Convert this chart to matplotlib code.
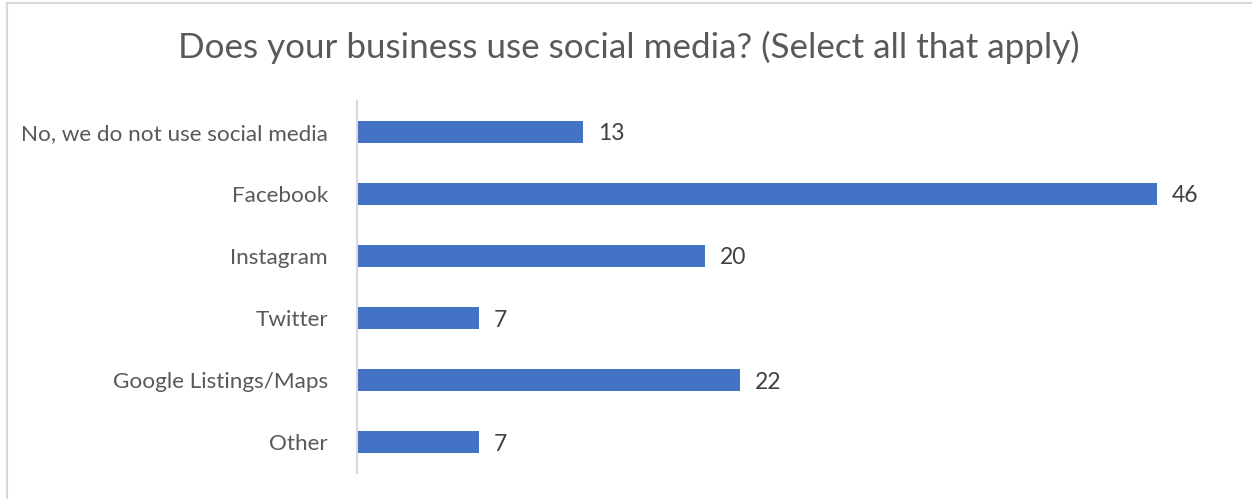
import matplotlib.pyplot as plt
from matplotlib.patches import Rectangle

# 图表数据
categories = ['No, we do not use social media', 'Facebook', 'Instagram',
              'Twitter', 'Google Listings/Maps', 'Other']
counts = [13, 46, 20, 7, 22, 7]
title = 'Does your business use social media? (Select all that apply)'

plt.rcParams['font.family'] = ['Lato', 'DejaVu Sans']

fig = plt.figure(figsize=(12.52, 4.99), dpi=100)
ax = fig.add_axes([0.2851, 0.0521, 0.695, 0.7455])

y_pos = list(range(len(categories)))
ax.barh(y_pos, counts, height=0.35, color='#4472C4')

# 数值标签
for y, v in zip(y_pos, counts):
    ax.annotate(str(v), xy=(v, y), xytext=(10.5, 0), textcoords='offset points',
                va='center_baseline', ha='left', fontsize=16.5, color='#404040')

ax.set_ylim(len(categories) - 0.5, -0.5)
ax.set_xlim(0, 50)
ax.set_yticks(y_pos)
ax.set_yticklabels(categories, fontsize=16.2, color='#595959')
ax.tick_params(axis='y', length=0, pad=21)
ax.set_xticks([])

for s in ['top', 'right', 'bottom']:
    ax.spines[s].set_visible(False)
ax.spines['left'].set_color('#D9D9D9')
ax.spines['left'].set_linewidth(1.5)

fig.text(0.5024, 1 - 58 / 499, title, ha='center', va='baseline',
         fontsize=25.2, color='#595959')

# 外边框
fig.patches.append(Rectangle((7 / 1252, -0.05), 1.1, 1.05 - 3 / 499,
                             transform=fig.transFigure, fill=False,
                             edgecolor='#D9D9D9', linewidth=1.5))

fig.savefig('out.png', dpi=100)
